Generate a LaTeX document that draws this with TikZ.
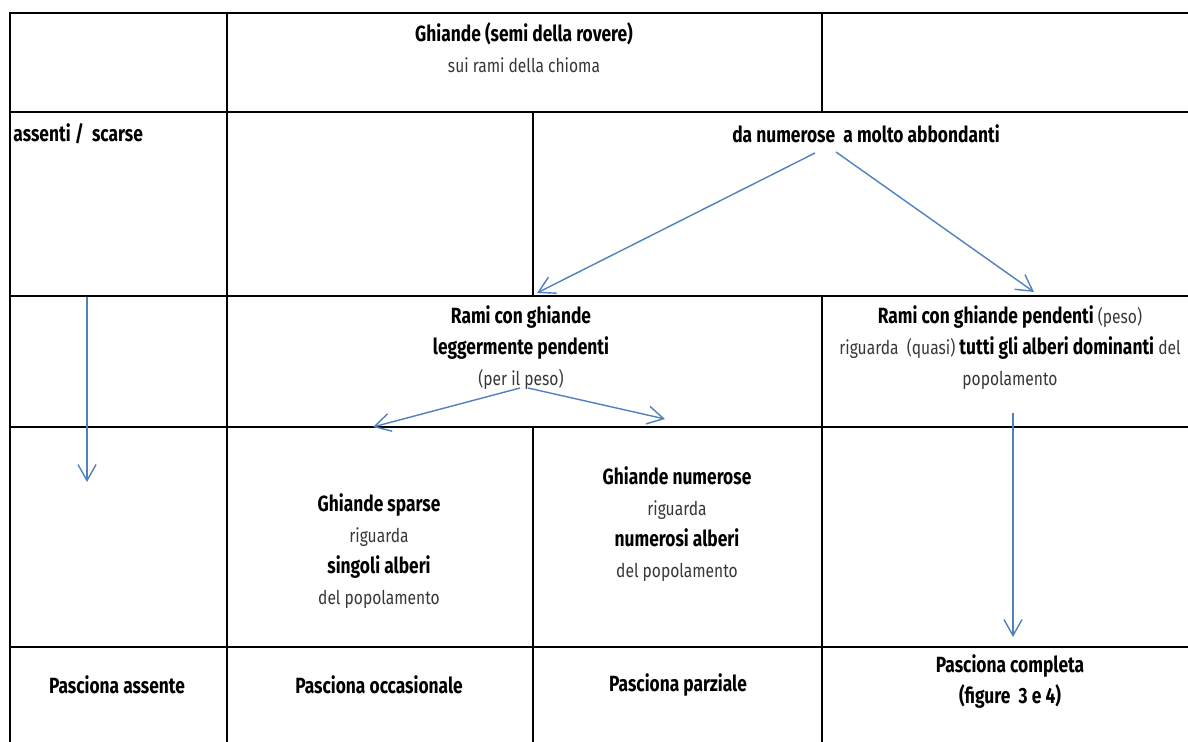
\documentclass[tikz,border=0pt]{standalone}
\usepackage{fontspec}
\setmainfont{Fira Sans}[FakeStretch=0.82, BoldFeatures={FakeStretch=0.79}]
\usetikzlibrary{arrows.meta}
\definecolor{arrowblue}{RGB}{79,129,189}
\definecolor{txtgray}{RGB}{55,55,55}
\newcommand{\rg}[1]{{\fontsize{9.5}{15.5}\selectfont\mdseries\color{txtgray}#1}}
\begin{document}
\begin{tikzpicture}[x=0.5pt,y=-0.5pt,
  grid/.style={line width=1.4pt,black},
  flow/.style={arrowblue,line width=0.7pt,-{Straight Barb[length=8pt,width=9pt,line width=0.7pt]}},
  cell/.style={align=center,font=\fontsize{11}{15.5}\selectfont\bfseries,inner sep=0pt},
  lcell/.style={anchor=west,font=\fontsize{11}{15.5}\selectfont\bfseries,inner sep=0pt}]
\useasboundingbox (0,0) rectangle (1188,742);
% grid
\draw[grid] (1188,13) -- (10,13) -- (10,742);
\foreach \y in {112,296,427,647} \draw[grid] (10,\y) -- (1188,\y);
\draw[grid] (227,13) -- (227,742);
\draw[grid] (533,112) -- (533,296);
\draw[grid] (533,427) -- (533,742);
\draw[grid] (822,13) -- (822,112);
\draw[grid] (822,296) -- (822,742);
% texts
\node[cell] (ghiande) at (524,48) {Ghiande (semi della rovere)\\\rg{sui rami della chioma}};
\node[lcell] (assenti) at (13,134) {assenti /\ \ scarse};
\node[cell] (numerose) at (866,134) {da numerose\ \ a molto abbondanti};
\node[cell] (leggermente) at (521,348) {Rami con ghiande\\leggermente pendenti\\\rg{(per il peso)}};
\node[cell] (pendenti) at (1010,348) {Rami con ghiande pendenti \rg{(peso)}\\\rg{riguarda\ \ (quasi)} tutti gli alberi dominanti \rg{del}\\\rg{popolamento}};
\node[cell] (sparse) at (379,551) {Ghiande sparse\\\rg{riguarda}\\singoli alberi\\\rg{del popolamento}};
\node[cell] (gnumerose) at (677,524) {Ghiande numerose\\\rg{riguarda}\\numerosi alberi\\\rg{del popolamento}};
\node[cell] (passente) at (117,685) {Pasciona assente};
\node[cell] (poccasionale) at (379,685) {Pasciona occasionale};
\node[cell] (pparziale) at (678,685) {Pasciona parziale};
\node[cell] (pcompleta) at (1010,682) {Pasciona completa\\(figure\ \ 3 e 4)};
% arrow end points
\coordinate (a1s) at (815,153);
\coordinate (a1e) at (537,293);
\coordinate (a2s) at (836,152);
\coordinate (a2e) at (1034,292);
\coordinate (a3s) at (520,388);
\coordinate (a3e) at (373,427);
\coordinate (a4s) at (528,388);
\coordinate (a4e) at (665,419);
\coordinate (a5s) at (87,297);
\coordinate (a5e) at (87,482);
\coordinate (a6s) at (1013,413);
\coordinate (a6e) at (1013,637);
\draw[flow] (a1s) -- (a1e);
\draw[flow] (a2s) -- (a2e);
\draw[flow] (a3s) -- (a3e);
\draw[flow] (a4s) -- (a4e);
\draw[flow] (a5s) -- (a5e);
\draw[flow] (a6s) -- (a6e);
\end{tikzpicture}
\end{document}
